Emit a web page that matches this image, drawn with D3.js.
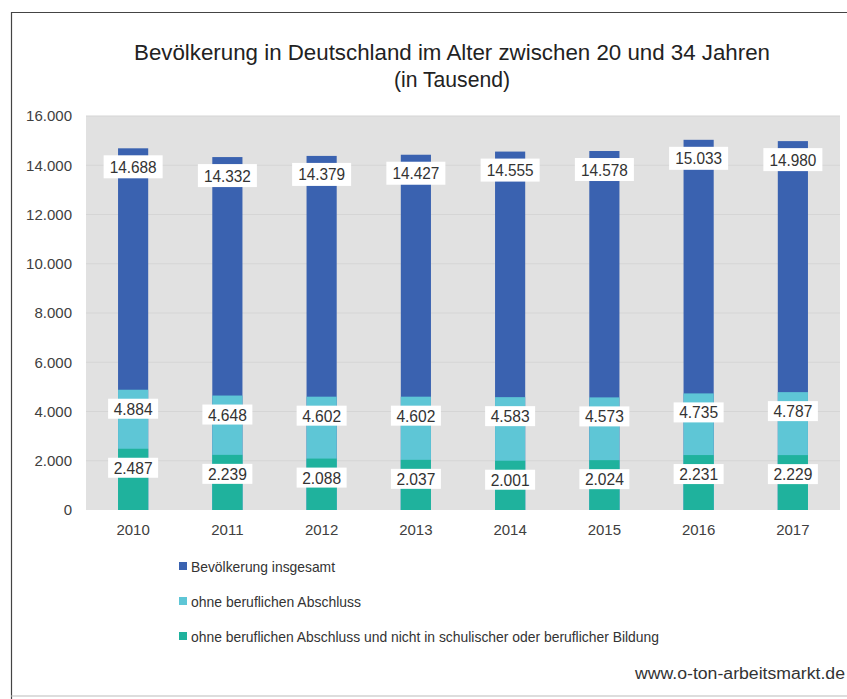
<!DOCTYPE html>
<html>
<head>
<meta charset="utf-8">
<script src="https://cdn.jsdelivr.net/npm/d3@7"></script>
<style>
  body { margin: 0; background: #fff; }
  svg text { font-family: "Liberation Sans", Arial, sans-serif; }
</style>
</head>
<body>
<svg id="chart" width="847" height="699"></svg>
<script>
const years = ["2010", "2011", "2012", "2013", "2014", "2015", "2016", "2017"];
const total = [14688, 14332, 14379, 14427, 14555, 14578, 15033, 14980];
const ohneAbschluss = [4884, 4648, 4602, 4602, 4583, 4573, 4735, 4787];
const ohneBildung = [2487, 2239, 2088, 2037, 2001, 2024, 2231, 2229];
const seriesNames = [
  "Bevölkerung insgesamt",
  "ohne beruflichen Abschluss",
  "ohne beruflichen Abschluss und nicht in schulischer oder beruflicher Bildung"
];
const colors = ["#3a62b0", "#5ec6d6", "#1fb29d"];
const yTicks = [0, 2000, 4000, 6000, 8000, 10000, 12000, 14000, 16000];

const svg = d3.select("#chart");
const fmt = d3.formatLocale({ decimal: ",", thousands: ".", grouping: [3], currency: ["", "€"] }).format(",d");

// frame
svg.append("path")
   .attr("d", "M11.5,699 V12.5 H847")
   .attr("fill", "none").attr("stroke", "#444").attr("stroke-width", 1.2);
svg.append("line")
   .attr("x1", 11).attr("x2", 847).attr("y1", 696).attr("y2", 696)
   .attr("stroke", "#bbb");

// title
svg.append("text").attr("x", 452).attr("y", 60).attr("text-anchor", "middle")
   .attr("font-size", 22).attr("fill", "#222")
   .attr("textLength", 636).attr("lengthAdjust", "spacingAndGlyphs")
   .text("Bevölkerung in Deutschland im Alter zwischen 20 und 34 Jahren");
svg.append("text").attr("x", 452).attr("y", 87).attr("text-anchor", "middle")
   .attr("font-size", 22).attr("fill", "#222")
   .attr("textLength", 116).attr("lengthAdjust", "spacingAndGlyphs")
   .text("(in Tausend)");

const plotLeft = 86, plotRight = 840, plotTop = 116, plotBottom = 510;
const x = d3.scaleBand().domain(years).range([plotLeft, plotRight]).paddingInner(0.68).paddingOuter(0.34);
const y = d3.scaleLinear().domain([0, 16000]).range([plotBottom, plotTop]);

svg.append("rect").attr("x", plotLeft).attr("y", plotTop)
   .attr("width", plotRight - plotLeft).attr("height", plotBottom - plotTop).attr("fill", "#e1e1e1");

svg.append("g").selectAll("line").data(yTicks.slice(1)).join("line")
   .attr("x1", plotLeft).attr("x2", plotRight)
   .attr("y1", d => y(d)).attr("y2", d => y(d))
   .attr("stroke", "#d5d5d5").attr("stroke-width", 1);

const yAxis = svg.append("g").attr("transform", `translate(${plotLeft},0)`)
   .call(d3.axisLeft(y).tickValues(yTicks).tickFormat(fmt).tickSize(0).tickPadding(14));
yAxis.select(".domain").remove();
yAxis.selectAll("text").attr("font-size", 15).attr("fill", "#404040");

const xAxis = svg.append("g").attr("transform", `translate(0,${plotBottom})`)
   .call(d3.axisBottom(x).tickSize(0).tickPadding(14));
xAxis.select(".domain").remove();
xAxis.selectAll("text").attr("font-size", 15).attr("fill", "#404040");

const series = [total, ohneAbschluss, ohneBildung];
series.forEach((vals, i) => {
  svg.append("g").selectAll("rect").data(vals).join("rect")
     .attr("x", (d, j) => x(years[j]))
     .attr("width", x.bandwidth())
     .attr("y", d => y(d))
     .attr("height", d => plotBottom - y(d))
     .attr("fill", colors[i]);
});

// labels
series.forEach((vals, i) => {
  const g = svg.append("g");
  vals.forEach((v, j) => {
    const cx = x(years[j]) + x.bandwidth() / 2;
    const ty = y(v) + (i === 0 ? 7 : 9);
    const h = i === 0 ? 23 : 20;
    const w = i === 0 ? 59 : 50;
    g.append("rect").attr("x", cx - w / 2).attr("y", ty).attr("width", w).attr("height", h)
     .attr("fill", "#fff");
    g.append("text").attr("x", cx).attr("y", ty + h / 2 + 6)
     .attr("text-anchor", "middle").attr("font-size", 17).attr("fill", "#333")
     .attr("textLength", i === 0 ? 47 : 39).attr("lengthAdjust", "spacingAndGlyphs")
     .text(fmt(v));
  });
});

// legend
const legend = svg.append("g");
seriesNames.forEach((name, i) => {
  const ly = 567 + i * 35;
  legend.append("rect").attr("x", 179).attr("y", ly - 5).attr("width", 8).attr("height", 8)
        .attr("fill", colors[i]);
  legend.append("text").attr("x", 191).attr("y", ly + 5)
        .attr("font-size", 15).attr("fill", "#333")
        .attr("textLength", [144, 170, 468][i]).attr("lengthAdjust", "spacingAndGlyphs")
        .text(name);
});

svg.append("text").attr("x", 845).attr("y", 679).attr("text-anchor", "end")
   .attr("font-size", 16).attr("fill", "#333")
   .attr("textLength", 210).attr("lengthAdjust", "spacingAndGlyphs")
   .text("www.o-ton-arbeitsmarkt.de");
</script>
</body>
</html>
